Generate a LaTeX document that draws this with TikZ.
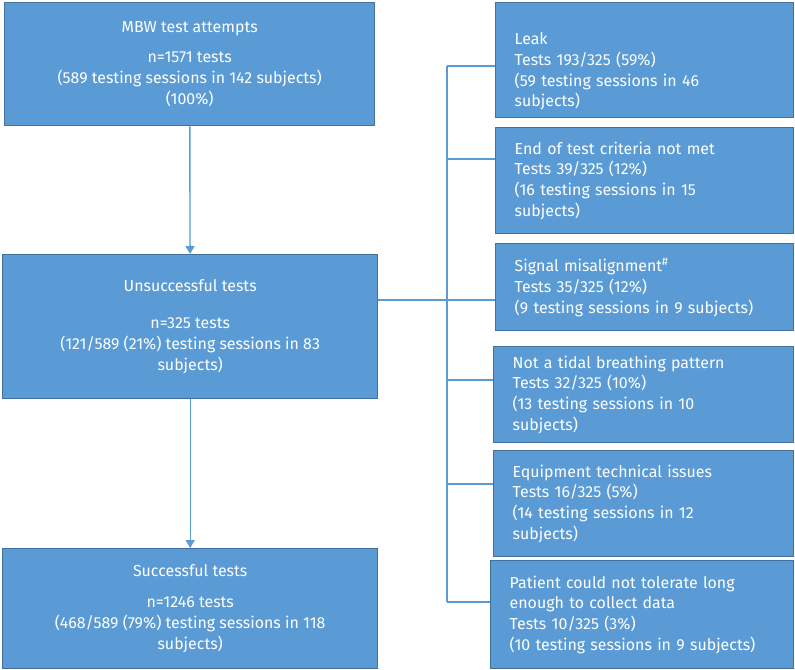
\documentclass[tikz,border=0pt]{standalone}
\usepackage{fontspec}
\setmainfont{Fira Sans}
\usepackage{xcolor}
\usetikzlibrary{arrows.meta,positioning,calc}

\definecolor{boxfill}{HTML}{5B9BD5}
\definecolor{boxline}{HTML}{41719C}

\begin{document}
\begin{tikzpicture}[x=1bp, y=-1bp,
    every node/.style={font=\fontsize{16}{20.8}\selectfont},
    block/.style={rectangle, draw=boxline, fill=boxfill, text=white, line width=1.4bp,
        anchor=north west, inner sep=0pt, align=center},
    reason/.style={block, align=left, inner xsep=19bp},
    link/.style={draw=boxfill, line width=1.4bp},
    flow/.style={link, -{Triangle[width=9bp,length=8bp]}}]

    \useasboundingbox (0,0) rectangle (795,670);

    % Left column - main flow
    \node[block, minimum width=370bp, minimum height=123bp] (attempts) at (4,2)
        {MBW test attempts\\[9bp]n=1571 tests\\(589 testing sessions in 142 subjects)\\(100\%)};
    \node[block, minimum width=375bp, minimum height=144bp] (unsucc) at (2,254)
        {Unsuccessful tests\\[16bp]n=325 tests\\(121/589 (21\%) testing sessions in 83\\subjects)};
    \node[block, minimum width=375bp, minimum height=120bp] (succ) at (2,548)
        {Successful tests\\[10bp]n=1246 tests\\(468/589 (79\%) testing sessions in 118\\subjects)};

    % Right column - reasons for failure
    \node[reason, text width=260bp, minimum height=115bp] (leak) at (495,2)
        {\mbox{}\\[14bp]Leak\\Tests 193/325 (59\%)\\(59 testing sessions in 46\\subjects)};
    \node[reason, text width=260bp, minimum height=106bp] (endtest) at (495,127)
        {End of test criteria not met\\Tests 39/325 (12\%)\\(16 testing sessions in 15\\subjects)};
    \node[reason, text width=260bp, minimum height=87bp] (signal) at (495,243)
        {Signal misalignment\textsuperscript{\#}\\Tests 35/325 (12\%)\\(9 testing sessions in 9 subjects)};
    \node[reason, text width=262bp, minimum height=96bp] (tidal) at (493,346)
        {Not a tidal breathing pattern\\Tests 32/325 (10\%)\\(13 testing sessions in 10\\subjects)};
    \node[reason, text width=262bp, minimum height=106bp] (equip) at (493,450)
        {Equipment technical issues\\Tests 16/325 (5\%)\\(14 testing sessions in 12\\subjects)};
    \node[reason, text width=265bp, minimum height=108bp] (patient) at (490,560)
        {Patient could not tolerate long\\enough to collect data\\Tests 10/325 (3\%)\\(10 testing sessions in 9 subjects)};

    % Bus junctions
    \coordinate (j1) at (447,66);
    \coordinate (j2) at (447,159);
    \coordinate (j3) at (447,300);
    \coordinate (j4) at (447,380);
    \coordinate (j5) at (447,484);
    \coordinate (j6) at (447,602);

    % Arrows
    \draw[flow] (attempts) -- (unsucc);
    \draw[flow] (unsucc) -- (succ);

    % Connectors
    \draw[link] (unsucc.east |- j3) -- (signal.west |- j3);
    \draw[link] (j1) -- (j6);
    \draw[link] (j1) -- (j1 -| leak.west);
    \draw[link] (j2) -- (j2 -| endtest.west);
    \draw[link] (j4) -- (j4 -| tidal.west);
    \draw[link] (j5) -- (j5 -| equip.west);
    \draw[link] (j6) -- (j6 -| patient.west);

\end{tikzpicture}
\end{document}
